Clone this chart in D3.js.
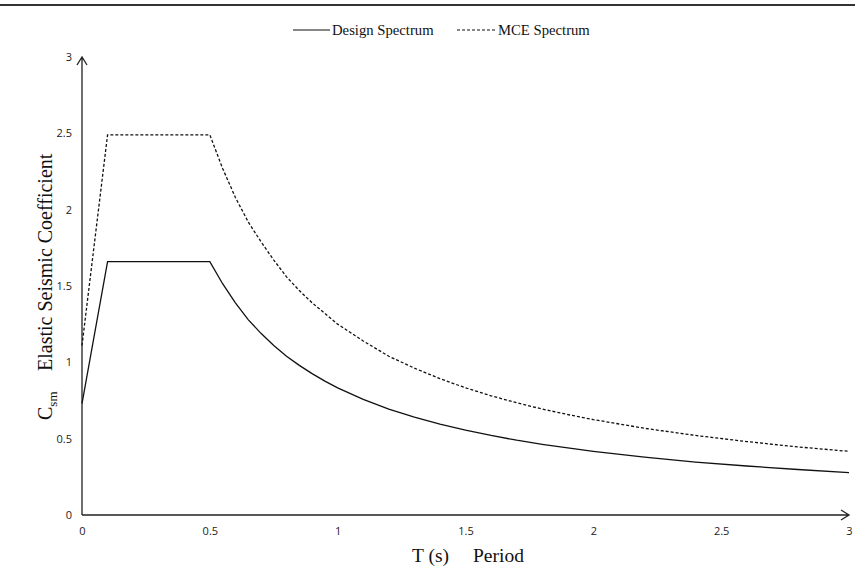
<!DOCTYPE html>
<html>
<head>
<meta charset="utf-8">
<script src="https://cdn.jsdelivr.net/npm/d3@7"></script>
<style>
  body { margin: 0; background: #fff; }
  svg { display: block; }
  .tick text { font-family: "Open Sans", "DejaVu Sans", sans-serif; font-size: 11px; fill: #222; }
  .serif { font-family: "Liberation Serif", serif; fill: #111; }
</style>
</head>
<body>
<div id="chart"></div>
<script>
// Response spectra
var periods = [0, 0.1, 0.5, 0.55, 0.6, 0.65, 0.7, 0.75, 0.8, 0.85, 0.9, 0.95, 1.0, 1.1, 1.2, 1.3, 1.4, 1.5, 1.6, 1.7, 1.8, 1.9, 2.0, 2.2, 2.4, 2.6, 2.8, 3.0];
var designVals = [0.73, 1.66, 1.66, 1.515, 1.39, 1.28, 1.19, 1.11, 1.04, 0.98, 0.926, 0.877, 0.833, 0.758, 0.694, 0.641, 0.595, 0.556, 0.521, 0.49, 0.463, 0.439, 0.417, 0.379, 0.347, 0.321, 0.298, 0.278];
var mceVals = [1.11, 2.49, 2.49, 2.27, 2.08, 1.92, 1.79, 1.67, 1.56, 1.47, 1.39, 1.32, 1.25, 1.14, 1.04, 0.962, 0.893, 0.833, 0.781, 0.735, 0.694, 0.658, 0.625, 0.568, 0.521, 0.481, 0.446, 0.417];
var xTicks = [0, 0.5, 1, 1.5, 2, 2.5, 3];
var yTicks = [0, 0.5, 1, 1.5, 2, 2.5, 3];
var seriesNames = ["Design Spectrum", "MCE Spectrum"];

var width = 855,
	height = 577,
	margin = {top: 57, right: 6, bottom: 62, left: 82};

var svg = d3.select("#chart").append("svg")
	.attr("width", width)
	.attr("height", height);

var x = d3.scaleLinear().domain([0, 3]).range([margin.left, width - margin.right]),
	y = d3.scaleLinear().domain([0, 3]).range([height - margin.bottom, margin.top]);

// rule across the top
svg.append("line")
	.attr("x1", 0).attr("x2", width)
	.attr("y1", 5).attr("y2", 5)
	.style("stroke", "#333")
	.style("stroke-width", 2);

// axes without tick marks
svg.append("g")
	.attr("transform", "translate(0," + y(0) + ")")
	.call(d3.axisBottom(x).tickValues(xTicks).tickSize(0).tickPadding(12).tickFormat(d3.format("")))
	.call(function(g) { g.select(".domain").remove(); });

svg.append("g")
	.attr("transform", "translate(" + x(0) + ",0)")
	.call(d3.axisLeft(y).tickValues(yTicks).tickSize(0).tickPadding(10).tickFormat(d3.format("")))
	.call(function(g) { g.select(".domain").remove(); });

// axis lines with open arrow heads
var axisStyle = function(sel) {
	sel.style("fill", "none").style("stroke", "#222").style("stroke-width", 1.3);
};
svg.append("path")
	.attr("d", "M" + x(0) + "," + y(0) + "H" + x(3) + "M" + (x(3) - 8) + "," + (y(0) - 5) + "L" + x(3) + "," + y(0) + "L" + (x(3) - 8) + "," + (y(0) + 5))
	.call(axisStyle);
svg.append("path")
	.attr("d", "M" + x(0) + "," + y(0) + "V" + y(3) + "M" + (x(0) - 5) + "," + (y(3) + 8) + "L" + x(0) + "," + y(3) + "L" + (x(0) + 5) + "," + (y(3) + 8))
	.call(axisStyle);

var line = d3.line()
	.x(function(d) { return x(d[0]); })
	.y(function(d) { return y(d[1]); });

svg.append("path")
	.datum(d3.zip(periods, designVals))
	.attr("d", line)
	.style("fill", "none")
	.style("stroke", "#111")
	.style("stroke-width", 1.3);

svg.append("path")
	.datum(d3.zip(periods, mceVals))
	.attr("d", line)
	.style("fill", "none")
	.style("stroke", "#111")
	.style("stroke-width", 1.3)
	.style("stroke-dasharray", "3,2");

// legend
var legend = svg.append("g").attr("transform", "translate(293,30)");
legend.append("line").attr("x1", 0).attr("x2", 37).style("stroke", "#111").style("stroke-width", 1.2);
legend.append("text").attr("class", "serif").attr("x", 39).attr("y", 5)
	.style("font-size", "14.7px")
	.text(seriesNames[0]);
legend.append("line").attr("x1", 164).attr("x2", 204).style("stroke", "#111").style("stroke-width", 1.2).style("stroke-dasharray", "3,2");
legend.append("text").attr("class", "serif").attr("x", 205).attr("y", 5)
	.style("font-size", "14.7px")
	.text(seriesNames[1]);

// axis titles
svg.append("text").attr("class", "serif")
	.attr("x", 412).attr("y", 562)
	.style("font-size", "19.5px")
	.text("T (s)");
svg.append("text").attr("class", "serif")
	.attr("x", 473).attr("y", 562)
	.style("font-size", "19.5px")
	.text("Period");

var csm = svg.append("text").attr("class", "serif")
	.attr("transform", "translate(52,420) rotate(-90)")
	.style("font-size", "20px");
csm.append("tspan").text("C");
csm.append("tspan").attr("dy", 5).style("font-size", "13px").text("sm");

svg.append("text").attr("class", "serif")
	.attr("transform", "translate(52,371) rotate(-90)")
	.style("font-size", "20px")
	.text("Elastic Seismic Coefficient");
</script>
</body>
</html>
